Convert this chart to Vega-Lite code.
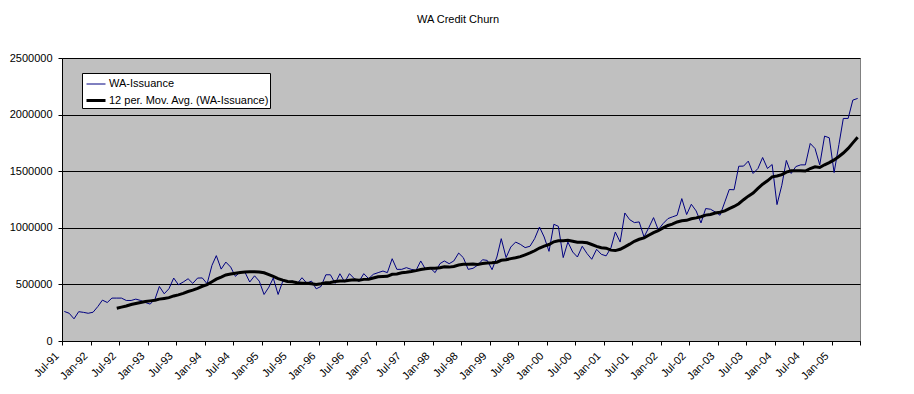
{
  "$schema": "https://vega.github.io/schema/vega-lite/v6.json",
  "autosize": "none",
  "width": 798,
  "height": 283,
  "padding": {"left": 62, "top": 58, "right": 54, "bottom": 53},
  "background": "white",
  "title": {"text": "WA Credit Churn", "font": "Liberation Sans", "fontSize": 11, "fontWeight": "normal", "color": "black", "offset": 27, "dx": -3},
  "config": {"view": {"fill": "#C0C0C0", "stroke": "#808080"}},
  "data": {"values": [
    {"d":"1991-07-16","v":261000},{"d":"1991-08-16","v":245000},{"d":"1991-09-16","v":196000},{"d":"1991-10-16","v":259000},{"d":"1991-11-16","v":253000},{"d":"1991-12-16","v":245000},
    {"d":"1992-01-16","v":254000},{"d":"1992-02-16","v":305000},{"d":"1992-03-16","v":361000},{"d":"1992-04-16","v":340000},{"d":"1992-05-16","v":379000},{"d":"1992-06-16","v":379000},{"d":"1992-07-16","v":379000},{"d":"1992-08-16","v":358000},{"d":"1992-09-16","v":358000},{"d":"1992-10-16","v":370000},{"d":"1992-11-16","v":358000},{"d":"1992-12-16","v":340000},
    {"d":"1993-01-16","v":326000},{"d":"1993-02-16","v":370000},{"d":"1993-03-16","v":482000},{"d":"1993-04-16","v":417000},{"d":"1993-05-16","v":461000},{"d":"1993-06-16","v":556000},{"d":"1993-07-16","v":497000},{"d":"1993-08-16","v":521000},{"d":"1993-09-16","v":550000},{"d":"1993-10-16","v":509000},{"d":"1993-11-16","v":556000},{"d":"1993-12-16","v":557000},
    {"d":"1994-01-16","v":506000},{"d":"1994-02-16","v":668000},{"d":"1994-03-16","v":754000},{"d":"1994-04-16","v":635000},{"d":"1994-05-16","v":697000},{"d":"1994-06-16","v":653000},{"d":"1994-07-16","v":571000},{"d":"1994-08-16","v":609000},{"d":"1994-09-16","v":606000},{"d":"1994-10-16","v":521000},{"d":"1994-11-16","v":576000},{"d":"1994-12-16","v":529000},
    {"d":"1995-01-16","v":411000},{"d":"1995-02-16","v":476000},{"d":"1995-03-16","v":556000},{"d":"1995-04-16","v":411000},{"d":"1995-05-16","v":529000},{"d":"1995-06-16","v":521000},{"d":"1995-07-16","v":529000},{"d":"1995-08-16","v":506000},{"d":"1995-09-16","v":559000},{"d":"1995-10-16","v":512000},{"d":"1995-11-16","v":529000},{"d":"1995-12-16","v":461000},
    {"d":"1996-01-16","v":482000},{"d":"1996-02-16","v":585000},{"d":"1996-03-16","v":585000},{"d":"1996-04-16","v":509000},{"d":"1996-05-16","v":594000},{"d":"1996-06-16","v":520000},{"d":"1996-07-16","v":595000},{"d":"1996-08-16","v":551000},{"d":"1996-09-16","v":527000},{"d":"1996-10-16","v":595000},{"d":"1996-11-16","v":551000},{"d":"1996-12-16","v":589000},
    {"d":"1997-01-16","v":604000},{"d":"1997-02-16","v":618000},{"d":"1997-03-16","v":604000},{"d":"1997-04-16","v":727000},{"d":"1997-05-16","v":633000},{"d":"1997-06-16","v":633000},{"d":"1997-07-16","v":648000},{"d":"1997-08-16","v":633000},{"d":"1997-09-16","v":624000},{"d":"1997-10-16","v":707000},{"d":"1997-11-16","v":633000},{"d":"1997-12-16","v":645000},
    {"d":"1998-01-16","v":604000},{"d":"1998-02-16","v":683000},{"d":"1998-03-16","v":707000},{"d":"1998-04-16","v":683000},{"d":"1998-05-16","v":707000},{"d":"1998-06-16","v":777000},{"d":"1998-07-16","v":736000},{"d":"1998-08-16","v":633000},{"d":"1998-09-16","v":642000},{"d":"1998-10-16","v":670000},{"d":"1998-11-16","v":718000},{"d":"1998-12-16","v":712000},
    {"d":"1999-01-16","v":630000},{"d":"1999-02-16","v":742000},{"d":"1999-03-16","v":904000},{"d":"1999-04-16","v":737000},{"d":"1999-05-16","v":830000},{"d":"1999-06-16","v":874000},{"d":"1999-07-16","v":854000},{"d":"1999-08-16","v":825000},{"d":"1999-09-16","v":837000},{"d":"1999-10-16","v":904000},{"d":"1999-11-16","v":1007000},{"d":"1999-12-16","v":919000},
    {"d":"2000-01-16","v":792000},{"d":"2000-02-16","v":1031000},{"d":"2000-03-16","v":1013000},{"d":"2000-04-16","v":737000},{"d":"2000-05-16","v":874000},{"d":"2000-06-16","v":786000},{"d":"2000-07-16","v":742000},{"d":"2000-08-16","v":837000},{"d":"2000-09-16","v":772000},{"d":"2000-10-16","v":722000},{"d":"2000-11-16","v":810000},{"d":"2000-12-16","v":766000},
    {"d":"2001-01-16","v":752000},{"d":"2001-02-16","v":823000},{"d":"2001-03-16","v":963000},{"d":"2001-04-16","v":874000},{"d":"2001-05-16","v":1131000},{"d":"2001-06-16","v":1072000},{"d":"2001-07-16","v":1046000},{"d":"2001-08-16","v":1052000},{"d":"2001-09-16","v":919000},{"d":"2001-10-16","v":1000000},{"d":"2001-11-16","v":1090000},{"d":"2001-12-16","v":983000},
    {"d":"2002-01-16","v":1037000},{"d":"2002-02-16","v":1081000},{"d":"2002-03-16","v":1096000},{"d":"2002-04-16","v":1111000},{"d":"2002-05-16","v":1258000},{"d":"2002-06-16","v":1117000},{"d":"2002-07-16","v":1208000},{"d":"2002-08-16","v":1149000},{"d":"2002-09-16","v":1043000},{"d":"2002-10-16","v":1170000},{"d":"2002-11-16","v":1164000},{"d":"2002-12-16","v":1140000},
    {"d":"2003-01-16","v":1111000},{"d":"2003-02-16","v":1229000},{"d":"2003-03-16","v":1338000},{"d":"2003-04-16","v":1336000},{"d":"2003-05-16","v":1544000},{"d":"2003-06-16","v":1545000},{"d":"2003-07-16","v":1589000},{"d":"2003-08-16","v":1480000},{"d":"2003-09-16","v":1524000},{"d":"2003-10-16","v":1621000},{"d":"2003-11-16","v":1524000},{"d":"2003-12-16","v":1559000},
    {"d":"2004-01-16","v":1205000},{"d":"2004-02-16","v":1376000},{"d":"2004-03-16","v":1595000},{"d":"2004-04-16","v":1480000},{"d":"2004-05-16","v":1541000},{"d":"2004-06-16","v":1556000},{"d":"2004-07-16","v":1556000},{"d":"2004-08-16","v":1745000},{"d":"2004-09-16","v":1700000},{"d":"2004-10-16","v":1556000},{"d":"2004-11-16","v":1810000},{"d":"2004-12-16","v":1795000},
    {"d":"2005-01-16","v":1488000},{"d":"2005-02-16","v":1736000},{"d":"2005-03-16","v":1966000},{"d":"2005-04-16","v":1966000},{"d":"2005-05-16","v":2128000},{"d":"2005-06-16","v":2143000}
  ]},
  "transform": [
    {"window": [{"op": "mean", "field": "v", "as": "ma"}, {"op": "count", "field": "v", "as": "n"}], "frame": [-11, 0], "sort": [{"field": "d"}]},
    {"fold": ["v", "ma"], "as": ["series", "val"]},
    {"filter": "datum.series == 'v' || datum.n >= 12"}
  ],
  "mark": {"type": "line", "interpolate": "linear"},
  "encoding": {
    "x": {
      "field": "d", "type": "temporal",
      "scale": {"type": "utc", "domain": [{"year": 1991, "month": 7, "date": 1, "utc": true}, {"year": 2005, "month": 7, "date": 1, "utc": true}]},
      "axis": {
        "title": null, "grid": false,
        "tickCount": {"interval": "month", "step": 6},
        "labelExpr": "utcyear(datum.value) == 2005 && utcmonth(datum.value) == 6 ? '' : utcFormat(datum.value, '%b-%y')",
        "labelAngle": -45, "labelAlign": "right", "labelBaseline": "middle",
        "labelFont": "Liberation Sans", "labelFontSize": 11, "labelColor": "black",
        "labelOverlap": false, "labelPadding": 9, "labelOffset": -5, "labelFlush": false,
        "domainColor": "black", "tickColor": "black", "tickSize": 4
      }
    },
    "y": {
      "field": "val", "type": "quantitative",
      "scale": {"domain": [0, 2500000], "nice": false},
      "axis": {
        "title": null, "values": [0, 500000, 1000000, 1500000, 2000000, 2500000], "format": "d",
        "grid": true, "gridColor": "black", "gridOpacity": 1, "gridWidth": 1,
        "labelFont": "Liberation Sans", "labelFontSize": 11, "labelColor": "black", "labelPadding": 6,
        "domainColor": "black", "tickColor": "black", "tickSize": 4
      }
    },
    "color": {
      "field": "series", "type": "nominal",
      "scale": {"domain": ["v", "ma"], "range": ["#000080", "#000000"]},
      "legend": {
        "orient": "none", "legendX": 20, "legendY": 15, "title": null,
        "fillColor": "white", "strokeColor": "black", "padding": 1, "rowPadding": 0.5,
        "symbolType": "stroke", "symbolSize": 361, "symbolStrokeWidth": 2, "symbolOffset": 2,
        "labelFont": "Liberation Sans", "labelFontSize": 11, "labelColor": "black", "labelOffset": 2,
        "labelExpr": "datum.label == 'v' ? 'WA-Issuance' : '12 per. Mov. Avg. (WA-Issuance)'"
      }
    },
    "strokeWidth": {
      "field": "series", "type": "nominal",
      "scale": {"domain": ["v", "ma"], "range": [1, 3]},
      "legend": null
    }
  }
}
